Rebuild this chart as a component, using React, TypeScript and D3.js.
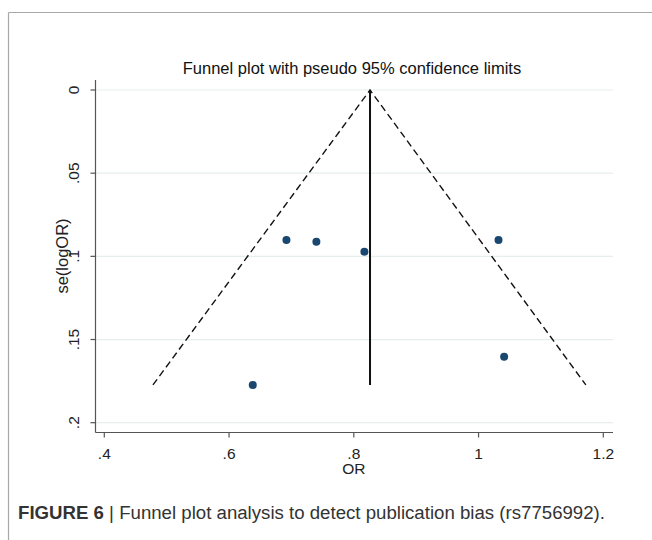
import React from "react";
import * as d3 from "d3";

// Study estimates: odds ratio and standard error of log OR
const studyOR = [0.638, 0.692, 0.740, 0.817, 1.032, 1.041];
const studySE = [0.1773, 0.0902, 0.0912, 0.0972, 0.0902, 0.1603];

// Pooled estimate and pseudo 95% limits at the largest SE
const pooledOR = 0.826;
const maxSE = 0.1773;
const lowerLimitOR = 0.478;
const upperLimitOR = 1.172;

const xTicks = [0.4, 0.6, 0.8, 1.0, 1.2];
const xTickLabels = [".4", ".6", ".8", "1", "1.2"];
const yTicks = [0, 0.05, 0.1, 0.15, 0.2];
const yTickLabels = ["0", ".05", ".1", ".15", ".2"];

const title = "Funnel plot with pseudo 95% confidence limits";
const xTitle = "OR";
const yTitle = "se(logOR)";
const captionBold = "FIGURE 6";
const captionText = " | Funnel plot analysis to detect publication bias (rs7756992).";

export default function App() {
  const W = 652;
  const H = 540;
  const x = d3.scaleLinear().domain([0.4, 1.2]).range([104.3, 603.3]);
  const y = d3.scaleLinear().domain([0, 0.2]).range([90, 422.7]);
  const axisLeft = 95.5;
  const axisRight = 613;
  const axisTop = 80;
  const axisBottom = 432.5;
  const font = "'Liberation Sans', Arial, sans-serif";

  const line = d3.line<[number, number]>().x((d) => x(d[0])).y((d) => y(d[1]));

  return (
    <svg
      width={W}
      height={H}
      style={{ position: "absolute", left: 0, top: 0, background: "#fff" }}
    >
      {/* frame */}
      <line x1={8.5} y1={12.5} x2={W} y2={12.5} stroke="#a8a8a8" strokeWidth={1.2} />
      <line x1={8.5} y1={12.5} x2={8.5} y2={H} stroke="#a8a8a8" strokeWidth={1.2} />

      {/* title */}
      <text x={352} y={73.5} textAnchor="middle" fontFamily={font} fontSize={16.5} fill="#111">
        {title}
      </text>

      {/* grid */}
      {yTicks.map((t) => (
        <line key={"g" + t} x1={axisLeft} x2={axisRight} y1={y(t)} y2={y(t)} stroke="#e6eeee" strokeWidth={1.2} />
      ))}

      {/* axes */}
      <line x1={axisLeft} x2={axisLeft} y1={axisTop} y2={axisBottom} stroke="#555" strokeWidth={1.2} />
      <line x1={axisLeft} x2={axisRight} y1={axisBottom} y2={axisBottom} stroke="#555" strokeWidth={1.2} />

      {yTicks.map((t, i) => (
        <g key={"y" + t}>
          <line x1={axisLeft - 5} x2={axisLeft} y1={y(t)} y2={y(t)} stroke="#555" strokeWidth={1.2} />
          <text
            transform={`translate(${78.5},${y(t)}) rotate(-90)`}
            textAnchor="middle"
            fontFamily={font}
            fontSize={15.5}
            fill="#222"
          >
            {yTickLabels[i]}
          </text>
        </g>
      ))}
      {xTicks.map((t, i) => (
        <g key={"x" + t}>
          <line x1={x(t)} x2={x(t)} y1={axisBottom} y2={axisBottom + 5} stroke="#555" strokeWidth={1.2} />
          <text x={x(t)} y={459} textAnchor="middle" fontFamily={font} fontSize={15.5} fill="#222">
            {xTickLabels[i]}
          </text>
        </g>
      ))}

      <text x={x(0.8)} y={474} textAnchor="middle" fontFamily={font} fontSize={15.5} fill="#222">
        {xTitle}
      </text>
      <text
        transform={`translate(${67.5},${256}) rotate(-90)`}
        textAnchor="middle"
        fontFamily={font}
        fontSize={16.5}
        fill="#222"
      >
        {yTitle}
      </text>

      {/* funnel limits */}
      <path
        d={line([[lowerLimitOR, maxSE], [pooledOR, 0], [upperLimitOR, maxSE]]) || ""}
        fill="none"
        stroke="#111"
        strokeWidth={1.4}
        strokeDasharray="7,4"
      />
      {/* pooled estimate */}
      <path d={line([[pooledOR, 0], [pooledOR, maxSE]]) || ""} fill="none" stroke="#111" strokeWidth={2} />

      {/* studies */}
      {studyOR.map((o, i) => (
        <circle key={"p" + i} cx={x(o)} cy={y(studySE[i])} r={4} fill="#1a476f" />
      ))}

      {/* caption */}
      <text x={18} y={519} fontFamily={font} fontSize={18} fill="#333" textLength={587} lengthAdjust="spacingAndGlyphs">
        <tspan fontWeight="bold">{captionBold}</tspan>
        <tspan>{captionText}</tspan>
      </text>
    </svg>
  );
}
